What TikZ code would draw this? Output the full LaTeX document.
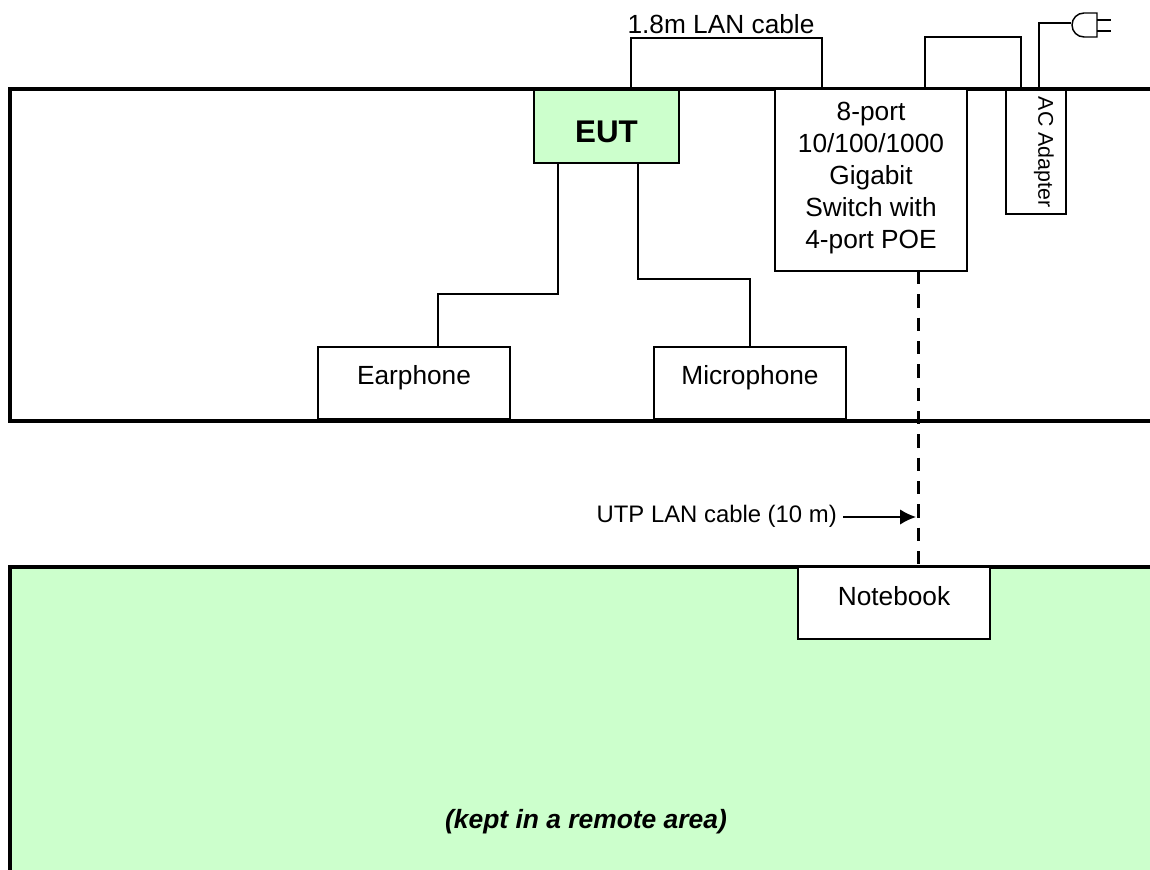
\documentclass[tikz,border=0pt]{standalone}
\usepackage{fontspec}
\setmainfont{Liberation Sans}
\usetikzlibrary{arrows.meta}
\definecolor{roomgreen}{HTML}{CCFFCC}
\tikzset{
  devbox/.style={draw, line width=1.1pt, fill=white, inner sep=0pt, align=center,
    font=\fontsize{19.7}{24}\selectfont},
  upperbox/.style={devbox, minimum width=144pt, minimum height=54pt, text height=12pt, text depth=10.5pt},
  cable/.style={line width=0.85pt},
  wall/.style={line width=2.8pt},
}

\begin{document}
\begin{tikzpicture}[x=0.75pt, y=-0.75pt]
  \useasboundingbox (0,0) rectangle (1150,870);

  % Remote area background
  \fill[roomgreen] (10,567) rectangle (1150,870);

  % Room outlines
  \draw[wall] (1150,89) -- (10,89) -- (10,421) -- (1150,421);
  \draw[wall] (10,870) -- (10,567) -- (1150,567);

  % Devices
  \node[devbox, minimum width=108.75pt, minimum height=54.75pt, fill=roomgreen, text height=24pt, text depth=0pt, font=\fontsize{23.5}{27}\selectfont\bfseries] (eut) at (606.5,126.5) {EUT};
  \node[devbox, minimum width=144pt, minimum height=136.5pt, text depth=6.5pt] (switch) at (871,180) {8-port\\10/100/1000\\Gigabit\\Switch with\\4-port POE};
  \node[devbox, minimum width=45pt, minimum height=93pt] (adapter) at (1036,152) {};
  \node[rotate=-90, font=\fontsize{16}{19}\selectfont] (adapterlabel) at (1044,152) {AC Adapter};
  \node[upperbox] (earphone) at (414,383) {Earphone};
  \node[upperbox] (microphone) at (750,383) {Microphone};
  \node[upperbox, text depth=9pt] (notebook) at (894,603) {Notebook};

  % Free text
  \node[font=\fontsize{19.7}{22}\selectfont] (lanlabel) at (721,24) {1.8m LAN cable};
  \node[anchor=east, inner sep=0pt, font=\fontsize{17.9}{21}\selectfont] (utplabel) at (837,516) {UTP LAN cable (10 m)};
  \node[font=\fontsize{19.8}{22}\selectfont\bfseries\itshape] (remotelabel) at (586,822) {(kept in a remote area)};

  % Cable ends and bends
  \coordinate (lanA) at (631,89);
  \coordinate (lanB) at (822,89);
  \coordinate (pwrA) at (925,89);
  \coordinate (pwrB) at (1021,89);
  \coordinate (cordA) at (1039,89);
  \coordinate (plug) at (1071,23);
  \coordinate (earA) at (558,163);
  \coordinate (micA) at (638,163);
  \coordinate (utpA) at (918,271);
  \coordinate (utpB) at (918,567);
  \coordinate (utpTip) at (916,517);
  \coordinate (utpTail) at (843,517);

  % Cables
  \draw[cable] (lanA) |- (660,38) -| (lanB);
  \draw[cable] (pwrA) |- (960,37) -| (pwrB);
  \draw[line width=1.1pt] (cordA) |- (plug);
  \draw[cable] (earA) |- (438,294) -- (438,347);
  \draw[cable] (micA) |- (750,279) -- (microphone.north);
  \draw[line width=2.25pt, dash pattern=on 10pt off 7.5pt] (utpA) -- (utpB);
  \draw[line width=1.1pt, -{Latex[length=12pt, width=11.5pt]}] (utpTail) -- (utpTip);

  % Plug
  \draw[line width=1.1pt] (1097,13) -- (1084,13) arc (90:270:9pt) -- (1097,37) -- cycle;
  \draw[line width=1.1pt] (1097,20) -- (1111,20) (1097,31) -- (1111,31);

\end{tikzpicture}
\end{document}
